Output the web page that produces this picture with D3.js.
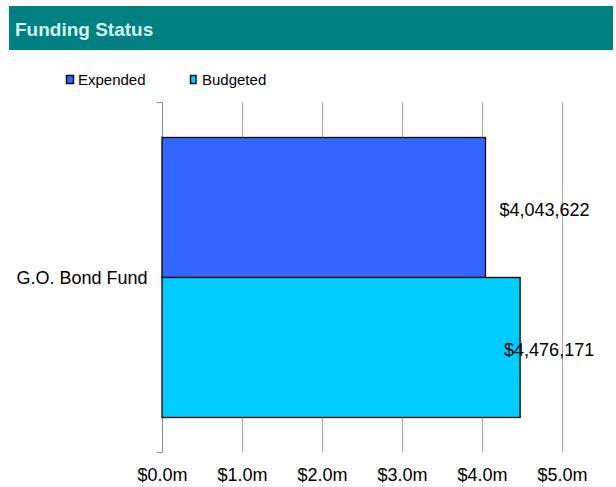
<!DOCTYPE html>
<html>
<head>
<meta charset="utf-8">
<script src="https://cdn.jsdelivr.net/npm/d3@7"></script>
<style>
  html, body { margin: 0; padding: 0; background: #ffffff; }
  svg { display: block; font-family: "Liberation Sans", Arial, sans-serif; }
</style>
</head>
<body>
<svg id="chart" width="616" height="487"></svg>
<script>
// Chart data
const categories = ["G.O. Bond Fund"];
const seriesNames = ["Expended", "Budgeted"];
const expendedValues = [4043622];
const budgetedValues = [4476171];
const tickValues = [0, 1e6, 2e6, 3e6, 4e6, 5e6];
const tickLabels = ["$0.0m", "$1.0m", "$2.0m", "$3.0m", "$4.0m", "$5.0m"];
const seriesColors = ["#3366ff", "#00ccff"];

const svg = d3.select("#chart");

// Title band
svg.append("rect")
  .attr("x", 9).attr("y", 6).attr("width", 604).attr("height", 44)
  .attr("fill", "#008080");
svg.append("text")
  .attr("x", 15).attr("y", 36)
  .attr("font-size", 19).attr("font-weight", "bold")
  .attr("fill", "#d4f6f0")
  .text("Funding Status");

// Legend
const legendX = [66, 190];
const legend = svg.append("g");
seriesNames.forEach((name, i) => {
  legend.append("rect")
    .attr("x", legendX[i] + 0.5).attr("y", 75.5)
    .attr("width", i === 0 ? 7 : 5.5).attr("height", 8)
    .attr("fill", seriesColors[i]).attr("stroke", "#111").attr("stroke-width", 1.5);
  legend.append("text")
    .attr("x", legendX[i] + 12).attr("y", 85)
    .attr("font-size", 15).attr("fill", "#000")
    .text(name);
});

// Scales
const x = d3.scaleLinear().domain([0, 5e6]).range([162, 562]);
const y = d3.scaleBand().domain(categories).range([102.5, 452.5])
  .paddingInner(0).paddingOuter(0.125);
const ySeries = d3.scaleBand().domain(seriesNames).range([0, y.bandwidth()]).padding(0);

// Vertical gridlines
svg.append("g")
  .selectAll("line")
  .data(tickValues.slice(1))
  .join("line")
  .attr("x1", d => Math.round(x(d)) + 0.5).attr("x2", d => Math.round(x(d)) + 0.5)
  .attr("y1", 102.5).attr("y2", 452.5)
  .attr("stroke", "#a6a6a6").attr("stroke-width", 1);

// Bottom axis (labels only)
const xAxis = d3.axisBottom(x)
  .tickValues(tickValues)
  .tickFormat((d, i) => tickLabels[i])
  .tickSize(0).tickPadding(0);
const gx = svg.append("g").attr("transform", "translate(0,468)").call(xAxis);
gx.select(".domain").remove();
gx.selectAll("text")
  .attr("font-size", 18).attr("fill", "#000")
  .attr("font-family", "Liberation Sans, Arial, sans-serif")
  .attr("dy", "0.71em");

// Left axis
const yAxis = d3.axisLeft(y).tickSize(0).tickPadding(15);
const gy = svg.append("g").attr("transform", "translate(162.5,0)").call(yAxis);
gy.select(".domain").attr("stroke", "#8c8c8c").attr("d", "M-6,102.5H0V452.5H-6");
gy.selectAll("text")
  .attr("font-size", 18).attr("fill", "#000")
  .attr("font-family", "Liberation Sans, Arial, sans-serif")
  .attr("dy", "0.35em");

// Bars
const rows = categories.map((c, i) => ({
  category: c,
  values: [
    { series: seriesNames[0], value: expendedValues[i], color: seriesColors[0] },
    { series: seriesNames[1], value: budgetedValues[i], color: seriesColors[1] }
  ]
}));

const groups = svg.append("g").selectAll("g")
  .data(rows).join("g")
  .attr("transform", d => `translate(0,${y(d.category)})`);

groups.selectAll("rect")
  .data(d => d.values)
  .join("rect")
  .attr("x", x(0))
  .attr("y", d => ySeries(d.series))
  .attr("width", d => x(d.value) - x(0))
  .attr("height", ySeries.bandwidth())
  .attr("fill", d => d.color)
  .attr("stroke", "#000").attr("stroke-width", 1.3);

// Value labels
const fmt = d3.format("$,.0f");
groups.selectAll("text.value")
  .data(d => d.values)
  .join("text")
  .attr("class", "value")
  .attr("x", (d, i) => x(d.value) + (i === 0 ? 14 : -16))
  .attr("y", d => ySeries(d.series) + ySeries.bandwidth() / 2 + 2)
  .attr("dy", "0.35em")
  .attr("font-size", 18).attr("fill", "#000")
  .text(d => fmt(d.value));
</script>
</body>
</html>
